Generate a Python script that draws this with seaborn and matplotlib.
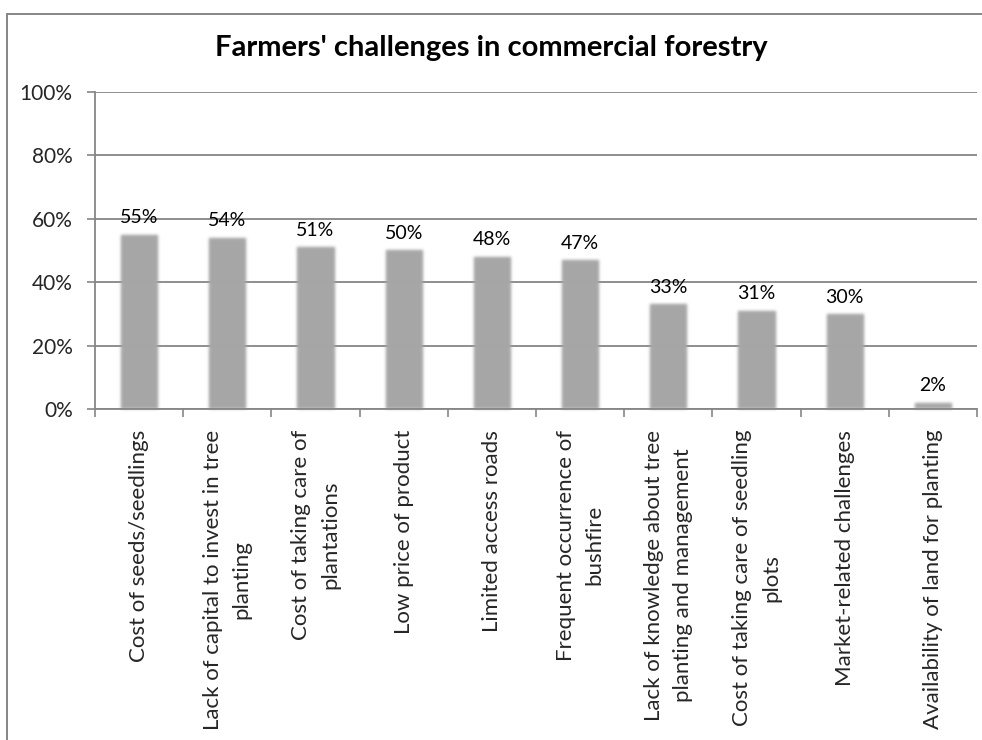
import numpy as np
import pandas as pd
import matplotlib
matplotlib.use("Agg")
import matplotlib.pyplot as plt
from matplotlib.colors import to_rgb
from matplotlib.lines import Line2D
from matplotlib.ticker import FuncFormatter, FixedLocator
import seaborn as sns

# Share of farmers reporting each challenge (%)
challenges = [
    "Cost of seeds/seedlings",
    "Lack of capital to invest in tree\nplanting",
    "Cost of taking care of\nplantations",
    "Low price of product",
    "Limited access roads",
    "Frequent occurrence of\nbushfire",
    "Lack of knowledge about tree\nplanting and management",
    "Cost of taking care of seedling\nplots",
    "Market-related challenges",
    "Availability of land for planting",
]
shares = [55, 54, 51, 50, 48, 47, 33, 31, 30, 2]
y_ticks = [0, 20, 40, 60, 80, 100]
title = "Farmers' challenges in commercial forestry"

df = pd.DataFrame({"challenge": challenges, "share": shares})

sns.set_theme(style="white")
plt.rcParams["font.family"] = ["Lato", "DejaVu Sans"]

GRID = "#868686"
BAR = "#a6a6a6"
BAR_RGB = np.array(to_rgb(BAR))


def soften(img, dpi):
    """Blur the bar's alpha so its edges fade out softly."""
    sigma = 1.4
    pad = 6
    alpha = np.pad(img[..., 3], pad, mode="constant")
    r = np.arange(-pad, pad + 1)
    k = np.exp(-(r ** 2) / (2 * sigma ** 2))
    k /= k.sum()
    alpha = np.apply_along_axis(lambda m: np.convolve(m, k, mode="same"), 0, alpha)
    alpha = np.apply_along_axis(lambda m: np.convolve(m, k, mode="same"), 1, alpha)
    out = np.empty(alpha.shape + (4,), dtype=img.dtype)
    out[..., :3] = BAR_RGB
    out[..., 3] = alpha
    return out, -pad, -pad


fig = plt.figure(figsize=(9.82, 7.40), dpi=100)
ax = fig.add_axes([0.0967, 0.4473, 0.8983, 0.4284])

sns.barplot(data=df, x="challenge", y="share", color=BAR, saturation=1,
            width=0.41, ax=ax)
for p in ax.patches:
    p.set_agg_filter(soften)

ax.bar_label(ax.containers[0], labels=[f"{v}%" for v in shares],
             padding=6, fontsize=14, color="black")

ax.set_ylim(0, 100)
ax.set_xlim(-0.5, len(challenges) - 0.5)
ax.yaxis.set_major_locator(FixedLocator(y_ticks))
ax.yaxis.set_major_formatter(FuncFormatter(lambda v, _: f"{v:.0f}%"))
ax.grid(axis="y", color=GRID, linewidth=1.3)
ax.set_axisbelow(True)

# Category boundary ticks on the x axis, labels centred under bars
ax.set_xticks(np.arange(-0.5, len(challenges), 1.0), minor=True)
ax.tick_params(axis="x", which="minor", bottom=True, length=6, width=1.2,
               color=GRID, direction="out")
ax.tick_params(axis="x", which="major", bottom=False, pad=9)
ax.tick_params(axis="y", left=True, length=6, width=1.2, color=GRID,
               direction="out", labelsize=15, pad=10)
ax.set_xticks(range(len(challenges)))
ax.set_xticklabels(challenges, rotation=90, fontsize=16, ha="center",
                   va="top", multialignment="center", linespacing=1.55)

for side in ["top", "right"]:
    ax.spines[side].set_visible(False)
for side in ["left", "bottom"]:
    ax.spines[side].set_color(GRID)
    ax.spines[side].set_linewidth(1.3)

ax.set_xlabel("")
ax.set_ylabel("")

fig.text(0.5, 0.935, title, ha="center", va="center", fontsize=21,
         fontweight="bold", color="black")

# Chart frame (top and left edges)
fx0, fy0 = 7 / 982, 1 - 13.5 / 740
fig.add_artist(Line2D([fx0, 1.0], [fy0, fy0], transform=fig.transFigure,
                      color=GRID, linewidth=1.4))
fig.add_artist(Line2D([fx0, fx0], [0.0, fy0], transform=fig.transFigure,
                      color=GRID, linewidth=1.4))

fig.savefig("out.png", dpi=100)
